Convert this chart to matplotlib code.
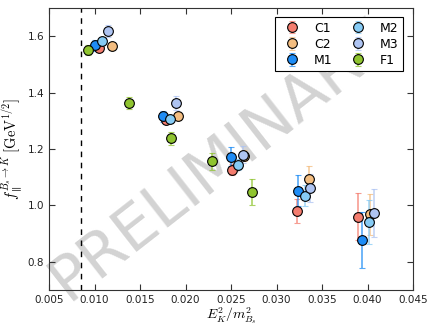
import matplotlib
matplotlib.use("Agg")
import matplotlib.pyplot as plt

plt.rcParams['mathtext.fontset'] = 'cm'
plt.rcParams['font.family'] = ['DejaVu Sans']

labels = ["C1", "C2", "M1", "M2", "M3", "F1"]
colors = ["#f47c6e", "#f3bd80", "#1e8cf5", "#86cbf5", "#aec4f2", "#8fc42f"]

# x = E_K^2/m_Bs^2, y = f_par, e = error
x_C1 = [0.01049, 0.01786, 0.02514, 0.03229, 0.03899]
y_C1 = [1.558, 1.304, 1.126, 0.981, 0.960]
e_C1 = [0.015, 0.015, 0.020, 0.043, 0.084]

x_C2 = [0.01189, 0.01914, 0.02643, 0.03361, 0.04027]
y_C2 = [1.565, 1.317, 1.176, 1.094, 0.969]
e_C2 = [0.012, 0.015, 0.020, 0.045, 0.073]

x_M1 = [0.01005, 0.01756, 0.02500, 0.03240, 0.03943]
y_M1 = [1.568, 1.316, 1.173, 1.052, 0.877]
e_M1 = [0.020, 0.020, 0.033, 0.056, 0.098]

x_M2 = [0.01086, 0.01830, 0.02574, 0.03313, 0.04016]
y_M2 = [1.584, 1.306, 1.144, 1.035, 0.942]
e_M2 = [0.015, 0.015, 0.020, 0.038, 0.078]

x_M3 = [0.01152, 0.01892, 0.02632, 0.03368, 0.04071]
y_M3 = [1.619, 1.364, 1.179, 1.062, 0.973]
e_M3 = [0.020, 0.025, 0.030, 0.050, 0.084]

x_F1 = [0.00932, 0.01379, 0.01837, 0.02288, 0.02728]
y_F1 = [1.551, 1.363, 1.238, 1.157, 1.046]
e_F1 = [0.018, 0.022, 0.022, 0.030, 0.046]

xs = [x_C1, x_C2, x_M1, x_M2, x_M3, x_F1]
ys = [y_C1, y_C2, y_M1, y_M2, y_M3, y_F1]
es = [e_C1, e_C2, e_M1, e_M2, e_M3, e_F1]

cut_x = 0.00852

fig = plt.figure(figsize=(4.28, 3.25), dpi=100)
ax = fig.add_axes([0.1145, 0.108, 0.8505, 0.867])

ax.text(0.47, 0.46, "PRELIMINARY", transform=ax.transAxes, fontsize=45,
        color="#c8c8c8", alpha=0.8, rotation=38, ha="center", va="center", zorder=0)

ax.axvline(cut_x, color="k", ls="--", lw=1.0, dashes=(4, 4))

for i in range(len(labels)):
    cont = ax.errorbar(xs[i], ys[i], yerr=es[i], fmt="o", color=colors[i], ecolor=colors[i],
                       ms=7, mec="k", mew=0.8, elinewidth=1.2, capsize=2.5, capthick=1.2,
                       label=labels[i], zorder=3)
    for c in cont[1]:
        c.set_alpha(0.75)
    for c in cont[2]:
        c.set_alpha(0.75)

ax.set_xlim(0.005, 0.045)
ax.set_ylim(0.7, 1.7)
ax.set_xticks([0.005, 0.010, 0.015, 0.020, 0.025, 0.030, 0.035, 0.040, 0.045])
ax.set_yticks([0.8, 1.0, 1.2, 1.4, 1.6])
ax.tick_params(direction="in", top=True, right=True, labelsize=7.5, length=4,
               colors="#333333", labelcolor="#222222")
for sp in ax.spines.values():
    sp.set_color("#333333")

ax.set_xlabel(r"$E_K^2/m_{B_s}^2$", fontsize=10, labelpad=0)
ax.set_ylabel(r"$f_{\parallel}^{B_s\to K}\;[\mathrm{GeV}^{1/2}]$", fontsize=10.5, labelpad=2)

leg = ax.legend(ncol=2, loc="upper right", fontsize=9, fancybox=False,
                edgecolor="k", framealpha=1, handletextpad=0.8, columnspacing=1.0,
                borderpad=0.35, labelspacing=0.25, bbox_to_anchor=(0.99, 0.99))
leg.get_frame().set_linewidth(0.8)

fig.savefig("out.png", dpi=100)
